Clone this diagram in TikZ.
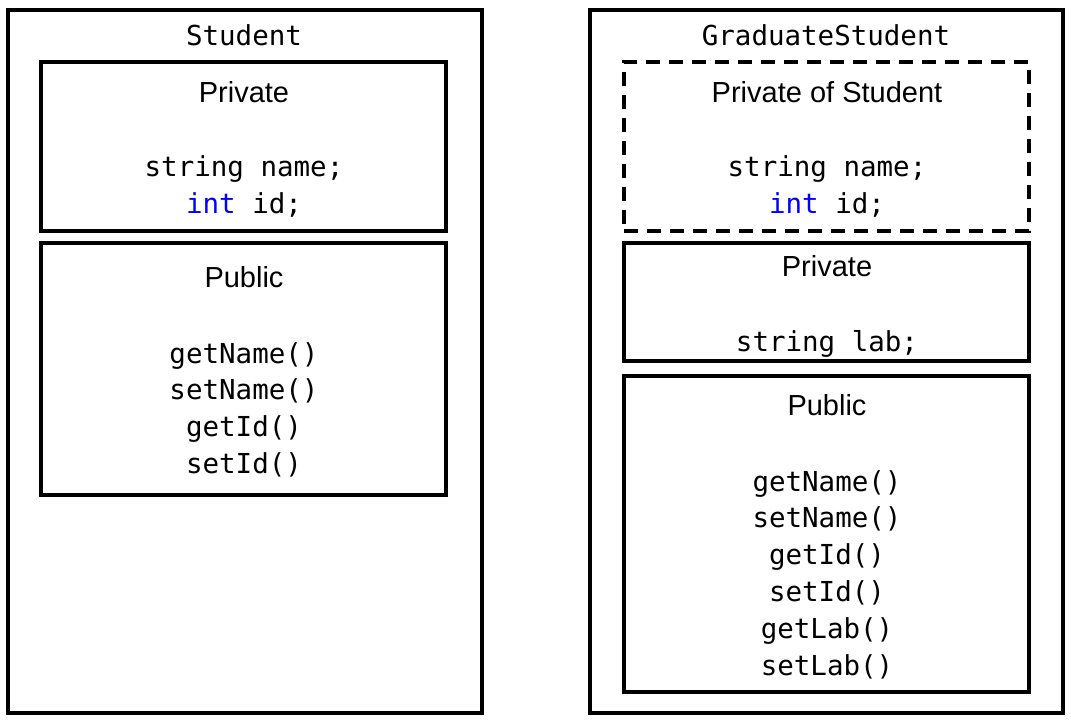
\documentclass[tikz,border=0pt]{standalone}
\usepackage{fontspec}
\usepackage{xcolor}
\usepackage{tikz}
\usetikzlibrary{
  positioning
}
\newfontfamily\labelfont{Liberation Sans}
\newfontfamily\codefont{DejaVu Sans Mono}
\definecolor{KeywordBlue}{RGB}{0, 0, 255}
\tikzset{
    outerbox/.style={rectangle, draw=black, line width=3.4pt, minimum width=474pt, minimum height=703pt, inner sep=0pt},
    memberbox/.style={rectangle, draw=black, line width=3.4pt, minimum width=405pt, inner sep=0pt},
    inheritedbox/.style={memberbox, dash pattern=on 14pt off 9pt},
    classname/.style={anchor=base, inner sep=0pt, font=\fontsize{27.5}{33}\selectfont\codefont},
    section/.style={anchor=base, inner sep=0pt, font=\fontsize{29}{35}\selectfont\labelfont},
    code/.style={anchor=base, inner sep=0pt, font=\fontsize{27.5}{33}\selectfont\codefont}
}

\begin{document}
\begin{tikzpicture}[x=1pt, y=-1pt]
    \useasboundingbox (0,0) rectangle (1071,723);

    \node[outerbox] (student) at (245,361.5) {};
    \node[classname] (studentname) at (244,45) {Student};
    \node[memberbox, minimum height=169pt] (stpriv) at (243.5,146.5) {};
    \node[section] (stprivlabel) at (244,102) {Private};
    \node[code] (stname) at (244,176) {string name;};
    \node[code] (stid) at (244,213) {\textcolor{KeywordBlue}{int} id;};
    \node[memberbox, minimum height=252pt] (stpub) at (243.5,369) {};
    \node[section] (stpublabel) at (244,287) {Public};
    \foreach \method [count=\i from 0] in {getName(), setName(), getId(), setId()}
        \node[code] (stm\i) at (244,{363+36.7*\i}) {\method};

    \node[outerbox, minimum width=473pt] (grad) at (826.5,361.5) {};
    \node[classname] (gradname) at (826,45) {GraduateStudent};
    \node[inheritedbox, minimum height=169pt] (grinh) at (826.5,146.5) {};
    \node[section] (grinhlabel) at (827,102) {Private of Student};
    \node[code] (grname) at (827,176) {string name;};
    \node[code] (grid) at (827,213) {\textcolor{KeywordBlue}{int} id;};
    \node[memberbox, minimum height=118pt] (grpriv) at (826.5,302) {};
    \node[section] (grprivlabel) at (827,276) {Private};
    \node[code] (grlab) at (827,351) {string lab;};
    \node[memberbox, minimum height=316pt] (grpub) at (826.5,534) {};
    \node[section] (grpublabel) at (827,415) {Public};
    \foreach \method [count=\i from 0] in {getName(), setName(), getId(), setId(), getLab(), setLab()}
        \node[code] (grm\i) at (827,{491+36.8*\i}) {\method};
\end{tikzpicture}
\end{document}
